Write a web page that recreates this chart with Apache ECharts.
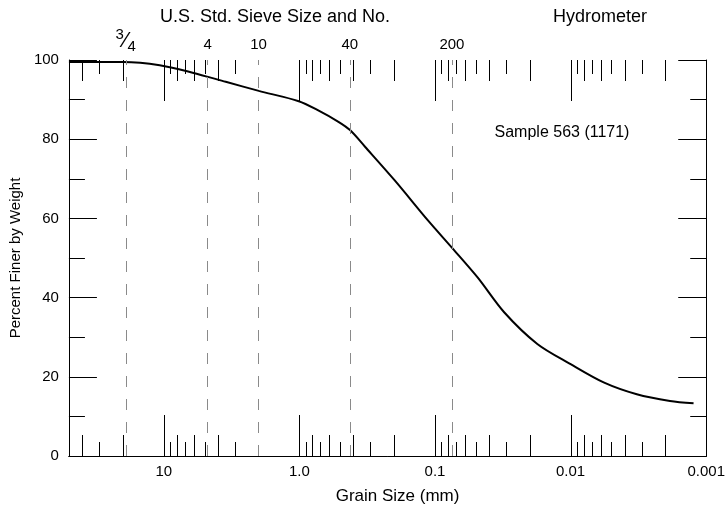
<!DOCTYPE html>
<html>
<head>
<meta charset="utf-8">
<script src="https://cdn.jsdelivr.net/npm/echarts@6/dist/echarts.min.js"></script>
<style>
  html, body { margin: 0; padding: 0; background: #fff; }
  #chart { width: 728px; height: 512px; }
</style>
</head>
<body>
<div id="chart"></div>
<script>
// Grain size (mm) and percent finer by weight
const grainSize = [50, 20, 10.7, 6.12, 3.49, 1.99, 1.01, 0.72, 0.515, 0.423, 0.328, 0.198, 0.1127, 0.0745, 0.0485, 0.0309, 0.0176, 0.01, 0.00571, 0.00325, 0.00185, 0.00124];
const percentFiner = [99.5, 99.5, 98.7, 96.8, 94.5, 92.2, 89.6, 87.2, 84.4, 82.3, 78.1, 69.6, 59.5, 52.5, 45.1, 36.3, 28.3, 23.2, 18.6, 15.6, 13.9, 13.3];

// Sieve openings (mm) and their labels
const sieveSizes = [19.05, 4.75, 2.0, 0.425, 0.075];
const sieveLabels = ['3/4', '4', '10', '40', '200'];

// Bottom axis tick labels
const decadeValues = [10, 1, 0.1, 0.01, 0.001];
const decadeLabels = ['10', '1.0', '0.1', '0.01', '0.001'];

// Ticks on grain-size axis: kind 0=decade, 1=long, 2=short
const gsTickValues = [40, 30, 20, 10, 9, 8, 7, 6, 5, 4, 3, 1, 0.9, 0.8, 0.7, 0.6, 0.5, 0.4, 0.3, 0.2,
  0.1, 0.09, 0.08, 0.07, 0.06, 0.05, 0.04, 0.03, 0.02, 0.01, 0.009, 0.008, 0.007, 0.006, 0.005, 0.004, 0.003, 0.002];
const gsTickKinds = [1, 2, 1, 0, 2, 1, 2, 1, 2, 1, 2, 0, 2, 1, 2, 1, 2, 1, 2, 1,
  0, 2, 1, 2, 1, 2, 1, 2, 1, 0, 2, 1, 2, 1, 2, 1, 2, 1];

const FONT = '"Liberation Sans", Arial, sans-serif';
const chart = echarts.init(document.getElementById('chart'), null, { renderer: 'canvas' });

const tickLen = [41, 21, 14];

function decadeFormatter(v) {
  for (let i = 0; i < decadeValues.length; i++) {
    if (Math.abs(Math.log10(v) - Math.log10(decadeValues[i])) < 1e-6) return decadeLabels[i];
  }
  return '';
}

const sieveLabelRich = {
  n: { fontSize: 15, fontFamily: FONT, color: '#000', verticalAlign: 'top', lineHeight: 27 },
  s: { fontSize: 22, fontFamily: FONT, color: '#000', verticalAlign: 'middle', lineHeight: 27 },
  d: { fontSize: 15, fontFamily: FONT, color: '#000', verticalAlign: 'bottom', lineHeight: 27 },
  t: { fontSize: 15, fontFamily: FONT, color: '#000' }
};

const option = {
  animation: false,
  backgroundColor: '#fff',
  textStyle: { fontFamily: FONT },
  grid: { left: 68, right: 17, top: 60, bottom: 56, containLabel: false },
  xAxis: [
    {
      type: 'log', logBase: 10, min: 0.001, max: 50, inverse: true, position: 'bottom',
      name: 'Grain Size (mm)', nameLocation: 'middle', nameGap: 32,
      nameTextStyle: { fontSize: 17, color: '#000', fontFamily: FONT, padding: [0, 0, 0, 20] },
      axisLine: { show: true, lineStyle: { color: '#000', width: 1 } },
      axisTick: { show: false },
      splitLine: { show: false },
      minorTick: { show: false },
      axisLabel: { show: true, fontSize: 15, color: '#000', fontFamily: FONT, margin: 8,
        showMinLabel: true, showMaxLabel: true, formatter: decadeFormatter }
    },
    {
      type: 'log', logBase: 10, min: 0.001, max: 50, inverse: true, position: 'top',
      axisLine: { show: true, lineStyle: { color: '#000', width: 1 } },
      axisTick: { show: false }, splitLine: { show: false }, axisLabel: { show: false }
    }
  ],
  yAxis: [
    {
      type: 'value', min: 0, max: 100, interval: 20, position: 'left',
      name: 'Percent Finer by Weight', nameLocation: 'middle', nameGap: 43,
      nameTextStyle: { fontSize: 15, color: '#000', fontFamily: FONT },
      axisLine: { show: true, lineStyle: { color: '#000', width: 1 } },
      axisTick: { show: true, inside: true, length: 28, lineStyle: { color: '#000' } },
      minorTick: { show: true, splitNumber: 2, length: 16, lineStyle: { color: '#000' } },
      splitLine: { show: false },
      axisLabel: { fontSize: 15, color: '#000', fontFamily: FONT, margin: 10 }
    },
    {
      type: 'value', min: 0, max: 100, interval: 20, position: 'right',
      axisLine: { show: true, lineStyle: { color: '#000', width: 1 } },
      axisTick: { show: true, inside: true, length: 28, lineStyle: { color: '#000' } },
      minorTick: { show: true, splitNumber: 2, length: 16, lineStyle: { color: '#000' } },
      splitLine: { show: false },
      axisLabel: { show: false }
    }
  ],
  graphic: [
    { type: 'text', x: 275, y: 17, style: { text: 'U.S. Std. Sieve Size and No.', font: '18px ' + FONT, fill: '#000', textAlign: 'center', textVerticalAlign: 'middle' } },
    { type: 'text', x: 600, y: 17, style: { text: 'Hydrometer', font: '18px ' + FONT, fill: '#000', textAlign: 'center', textVerticalAlign: 'middle' } },
    { type: 'text', x: 562, y: 133, style: { text: 'Sample 563 (1171)', font: '16px ' + FONT, fill: '#000', textAlign: 'center', textVerticalAlign: 'middle' } }
  ],
  series: [
    {
      type: 'custom',
      xAxisIndex: 0, yAxisIndex: 0,
      silent: true,
      clip: false,
      data: gsTickValues.map((v, i) => [v, gsTickKinds[i]]),
      renderItem: function (params, api) {
        const v = api.value(0);
        const len = tickLen[api.value(1)];
        const b = api.coord([v, 0]);
        const t = api.coord([v, 100]);
        const x = Math.round(b[0]) + 0.5;
        return {
          type: 'group',
          children: [
            { type: 'line', shape: { x1: x, y1: b[1], x2: x, y2: b[1] - len }, style: { stroke: '#000', lineWidth: 1 } },
            { type: 'line', shape: { x1: x, y1: t[1], x2: x, y2: t[1] + len }, style: { stroke: '#000', lineWidth: 1 } }
          ]
        };
      },
      z: 3
    },
    {
      type: 'line',
      xAxisIndex: 0, yAxisIndex: 0,
      data: grainSize.map((g, i) => [g, percentFiner[i]]),
      showSymbol: false,
      smooth: 0.3,
      lineStyle: { color: '#000', width: 2 },
      z: 4,
      markLine: {
        silent: true,
        symbol: 'none',
        animation: false,
        lineStyle: { color: '#8a8a8a', type: [11, 12], width: 1 },
        label: {
          show: true, position: 'end', distance: 8, color: '#000', fontSize: 15, fontFamily: FONT,
          rich: sieveLabelRich
        },
        data: sieveSizes.map((s, i) => [
          { coord: [s, 0] },
          {
            coord: [s, 100],
            label: {
              formatter: sieveLabels[i] === '3/4' ? '{n|3}{s|⁄}{d|4}' : '{t|' + sieveLabels[i] + '}',
              distance: sieveLabels[i] === '3/4' ? 6 : 8
            }
          }
        ])
      }
    }
  ]
};

chart.setOption(option);
</script>
</body>
</html>
